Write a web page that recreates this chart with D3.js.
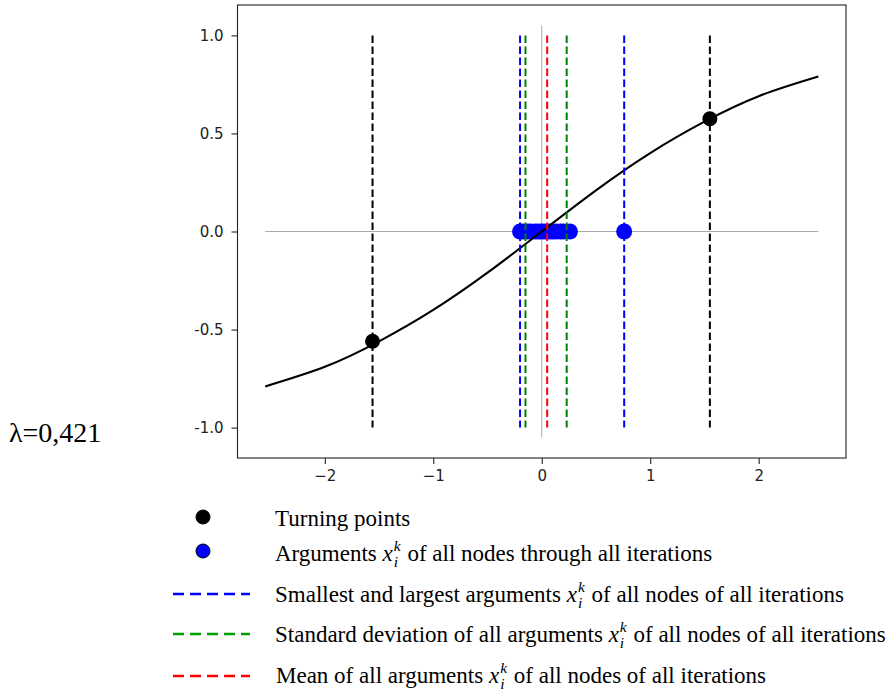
<!DOCTYPE html>
<html>
<head>
<meta charset="utf-8">
<script src="https://cdn.jsdelivr.net/npm/d3@7"></script>
<style>
  body { margin: 0; background: #fff; }
  svg { display: block; }
</style>
</head>
<body>
<svg id="chart" width="891" height="692"></svg>
<script>
// ── Data ─────────────────────────────────────────────────────────────────────
const curveX = [-2.55, -2, -1.5, -1, -0.5, 0, 0.5, 1, 1.5, 2, 2.55];
const curveY = [-0.79, -0.69, -0.56, -0.40, -0.21, 0, 0.21, 0.40, 0.56, 0.69, 0.79];

const turningX = [-1.56, 1.55];
const turningY = [-0.56, 0.575];

// arguments x_i^k, all drawn on y = 0
const argsX = [-0.2, -0.17, -0.13, -0.1, -0.06, -0.03, 0, 0.03, 0.07, 0.1, 0.13, 0.17, 0.2, 0.26, 0.76];

const extremesX = [-0.2, 0.76];
const stdX      = [-0.15, 0.23];
const meanX     = [0.05];

const xTicks = [-2, -1, 0, 1, 2];
const yTicks = [-1, -0.5, 0, 0.5, 1];

const lambdaLabel = "λ=0,421";

// legend rows: [before math, after math] ; null = no math part
const legendRows = [
  { kind: "dot",  color: "#000", text: ["Turning points", null] },
  { kind: "dot",  color: "#0000ff", text: ["Arguments ", " of all nodes through all iterations"] },
  { kind: "dash", color: "#0000ff", text: ["Smallest and largest arguments ", " of all nodes of all iterations"] },
  { kind: "dash", color: "#00a000", text: ["Standard deviation of all arguments ", " of all nodes of all iterations"] },
  { kind: "dash", color: "#ff0000", text: ["Mean of all arguments ", " of all nodes of all iterations"] },
];

// ── Layout ───────────────────────────────────────────────────────────────────
const plot = { left: 237.5, right: 846, top: 5, bottom: 458 };

const svg = d3.select("#chart");

const x = d3.scaleLinear().domain([-2.805, 2.805]).range([plot.left, plot.right]);
const y = d3.scaleLinear().domain([-1.155, 1.155]).range([plot.bottom, plot.top]);

const g = svg.append("g");

// thin grey axes through the origin
g.append("line")
  .attr("x1", x(curveX[0])).attr("x2", x(curveX[curveX.length - 1]))
  .attr("y1", y(0)).attr("y2", y(0))
  .attr("stroke", "#aaa").attr("stroke-width", 1);
g.append("line")
  .attr("x1", x(0)).attr("x2", x(0))
  .attr("y1", y(1.05)).attr("y2", y(-1.05))
  .attr("stroke", "#aaa").attr("stroke-width", 1);

// argument dots
g.selectAll(".arg").data(argsX).enter().append("circle")
  .attr("class", "arg")
  .attr("cx", d => x(d)).attr("cy", y(0)).attr("r", 8)
  .attr("fill", "#0000ff");

// the curve
const line = d3.line().x(d => x(d[0])).y(d => y(d[1])).curve(d3.curveNatural);
g.append("path")
  .datum(curveX.map((v, i) => [v, curveY[i]]))
  .attr("d", line)
  .attr("fill", "none").attr("stroke", "#000").attr("stroke-width", 2.1);

// vertical dashed markers
const vlines = [
  ...turningX.map(v => ({ v, c: "#000" })),
  ...extremesX.map(v => ({ v, c: "#0000ff" })),
  ...stdX.map(v => ({ v, c: "#008000" })),
  ...meanX.map(v => ({ v, c: "#ff0000" })),
];
g.selectAll(".vl").data(vlines).enter().append("line")
  .attr("class", "vl")
  .attr("x1", d => x(d.v)).attr("x2", d => x(d.v))
  .attr("y1", y(1)).attr("y2", y(-1))
  .attr("stroke", d => d.c).attr("stroke-width", 2)
  .attr("stroke-dasharray", "7.7,3.3");

// turning points
g.selectAll(".tp").data(turningX).enter().append("circle")
  .attr("class", "tp")
  .attr("cx", d => x(d)).attr("cy", (d, i) => y(turningY[i])).attr("r", 7.5)
  .attr("fill", "#000");

// frame
svg.append("rect")
  .attr("x", plot.left).attr("y", plot.top)
  .attr("width", plot.right - plot.left).attr("height", plot.bottom - plot.top)
  .attr("fill", "none").attr("stroke", "#222").attr("stroke-width", 1.1);

// axes
const xAxis = svg.append("g")
  .attr("transform", `translate(0,${plot.bottom})`)
  .call(d3.axisBottom(x).tickValues(xTicks).tickFormat(d3.format("d")).tickSize(6).tickPadding(6));
const yAxis = svg.append("g")
  .attr("transform", `translate(${plot.left},0)`)
  .call(d3.axisLeft(y).tickValues(yTicks).tickFormat(d => d.toFixed(1)).tickSize(6).tickPadding(8));

[xAxis, yAxis].forEach(a => {
  a.select(".domain").remove();
  a.selectAll("line").attr("stroke", "#222").attr("stroke-width", 1.1);
  a.selectAll("text")
    .attr("fill", "#222")
    .style("font-family", "'DejaVu Sans', sans-serif")
    .style("font-size", "15px");
});

// λ label
svg.append("text")
  .attr("x", 9).attr("y", 442)
  .style("font-family", "'Liberation Serif', 'Times New Roman', serif")
  .style("font-size", "28px")
  .text(lambdaLabel);

// ── Legend ───────────────────────────────────────────────────────────────────
const rowCy    = [517, 551, 594, 634, 676];
const rowBase  = [526, 561, 601.5, 641.5, 683];
const textX    = 275;
const serif    = "'Liberation Serif', 'Times New Roman', serif";

legendRows.forEach((row, i) => {
  if (row.kind === "dot") {
    svg.append("circle")
      .attr("cx", 203).attr("cy", rowCy[i]).attr("r", 7)
      .attr("fill", row.color).attr("stroke", "#000").attr("stroke-width", 1);
  } else {
    svg.append("line")
      .attr("x1", 173).attr("x2", 250).attr("y1", rowCy[i]).attr("y2", rowCy[i])
      .attr("stroke", row.color).attr("stroke-width", 2.5)
      .attr("stroke-dasharray", "11,6");
  }

  let cx = textX + (i === 4 ? 1 : 0);
  const base = rowBase[i];
  const put = (str, size, dy, italic) => {
    const t = svg.append("text")
      .attr("x", cx).attr("y", base + dy)
      .style("font-family", serif)
      .style("font-size", size + "px")
      .style("font-style", italic ? "italic" : "normal")
      .style("white-space", "pre")
      .attr("xml:space", "preserve")
      .text(str);
    return t.node().getComputedTextLength();
  };

  cx += put(row.text[0], 23, 0, false);
  if (row.text[1] !== null) {
    const wx = put("x", 23, 0, true);
    cx += wx + 1;
    const wk = put("k", 15.5, -10, true);
    const wi = put("i", 15.5, 6, true);
    cx += Math.max(wk, wi) + 1;
    put(row.text[1], 23, 0, false);
  }
});
</script>
</body>
</html>
